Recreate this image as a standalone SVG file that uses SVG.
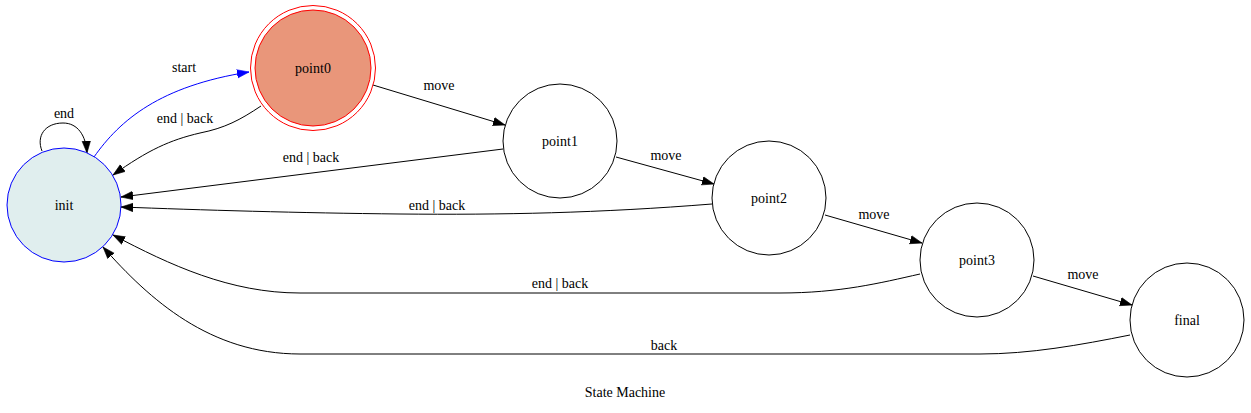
<svg xmlns="http://www.w3.org/2000/svg" width="1251" height="413" viewBox="0 0 1251 413" font-family="Liberation Serif, DejaVu Serif, serif">
<style>
text{font-family:'Liberation Serif','DejaVu Serif','Times New Roman',serif;font-size:14px;text-anchor:middle;fill:#000}
.node{fill:#fff;stroke:#000;stroke-width:1}
.edge{fill:none;stroke:#000;stroke-width:1}
.blue{stroke:#0000ff}
</style>
<defs>
<marker id="ah" markerUnits="userSpaceOnUse" markerWidth="12" markerHeight="10" refX="10" refY="3.5" orient="auto" viewBox="0 0 10 7">
<path d="M0,0 L10,3.5 L0,7 z" fill="#000" stroke="#000" stroke-width="0.5"/>
</marker>
<marker id="ahb" markerUnits="userSpaceOnUse" markerWidth="12" markerHeight="10" refX="10" refY="3.5" orient="auto" viewBox="0 0 10 7">
<path d="M0,0 L10,3.5 L0,7 z" fill="#0000ff" stroke="#0000ff" stroke-width="0.5"/>
</marker>
</defs>
<rect width="1251" height="413" fill="#fff"/>
<g id="connectors">
<g id="e-init-init"><path class="edge" d="M42,151 C36,136 45,123 63,123 C78,123 86,136 87,153" marker-end="url(#ah)"/><text x="64" y="118">end</text></g>
<g id="e-init-point0"><path class="edge blue" d="M94,157 C120,120 160,86 249,72" marker-end="url(#ahb)"/><text x="184" y="72">start</text></g>
<g id="e-point0-init"><path class="edge" d="M261,106 C240,120 225,128 200,133 C170,140 148,150 113,175" marker-end="url(#ah)"/><text x="185" y="123">end | back</text></g>
<g id="e-point0-point1"><path class="edge" d="M373,85 L505,125" marker-end="url(#ah)"/><text x="439" y="90">move</text></g>
<g id="e-point1-init"><path class="edge" d="M503,149 L121,197" marker-end="url(#ah)"/><text x="311" y="162">end | back</text></g>
<g id="e-point1-point2"><path class="edge" d="M616,157 L714,184" marker-end="url(#ah)"/><text x="666" y="160">move</text></g>
<g id="e-point2-init"><path class="edge" d="M712,204 C600,213 500,215 400,214 C300,213 200,210 121,207" marker-end="url(#ah)"/><text x="437" y="210">end | back</text></g>
<g id="e-point2-point3"><path class="edge" d="M825,215 L922,243" marker-end="url(#ah)"/><text x="874" y="219">move</text></g>
<g id="e-point3-init"><path class="edge" d="M920,274 C880,283 840,293 780,293 L300,293 C230,293 170,265 113,235" marker-end="url(#ah)"/><text x="560" y="288">end | back</text></g>
<g id="e-point3-final"><path class="edge" d="M1033,276 L1132,305" marker-end="url(#ah)"/><text x="1083" y="279">move</text></g>
<g id="e-final-init"><path class="edge" d="M1130,335 C1080,345 1030,354 980,354 L300,354 C210,354 150,300 103,247" marker-end="url(#ah)"/><text x="664" y="350">back</text></g>
</g>
<g id="init"><circle cx="64" cy="205" r="57" fill="#e0eeee" stroke="#0000ff"/><text x="64" y="210">init</text></g>
<g id="point0"><circle cx="313" cy="68" r="62.5" fill="none" stroke="#ff0000"/><circle cx="313" cy="68" r="58" fill="#e9967a" stroke="#ff0000"/><text x="313" y="73">point0</text></g>
<g id="point1"><circle class="node" cx="560" cy="141" r="57"/><text x="560" y="146">point1</text></g>
<g id="point2"><circle class="node" cx="769" cy="198" r="57"/><text x="769" y="203">point2</text></g>
<g id="point3"><circle class="node" cx="977" cy="260" r="57"/><text x="977" y="265">point3</text></g>
<g id="final"><circle class="node" cx="1187" cy="320" r="57"/><text x="1187" y="325">final</text></g>
<text x="625" y="397">State Machine</text>
</svg>
